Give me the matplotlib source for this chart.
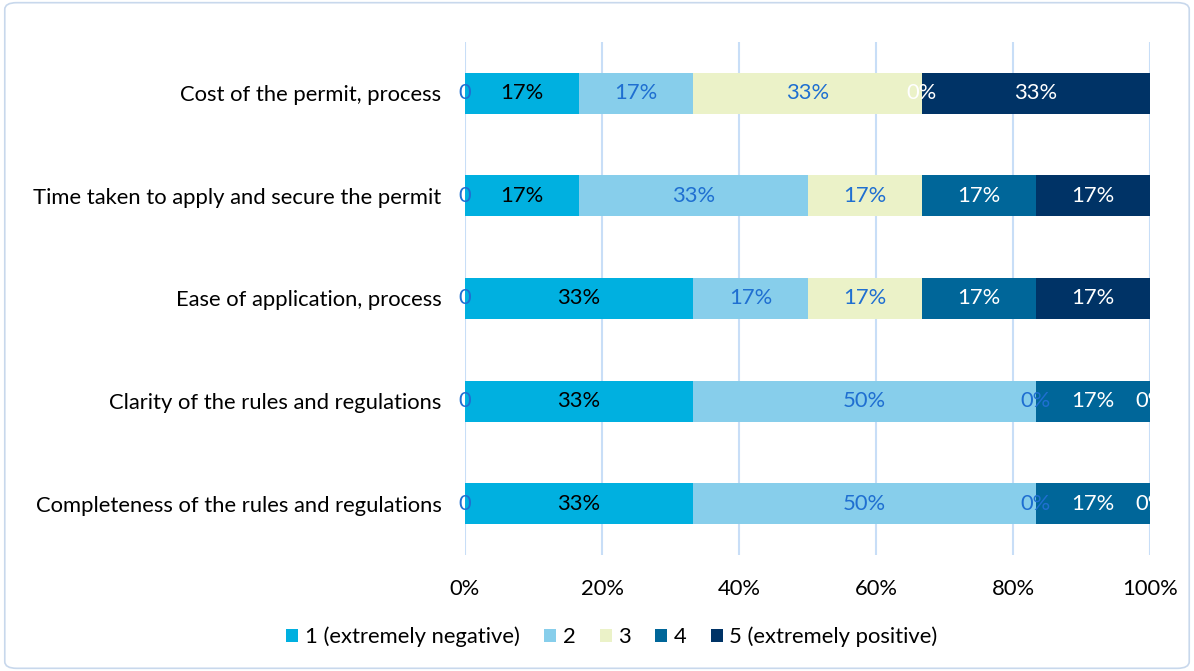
import numpy as np
import matplotlib.pyplot as plt
from matplotlib.patches import FancyBboxPatch

plt.rcParams['font.family'] = ['Lato', 'DejaVu Sans']

categories = ["Cost of the permit, process",
              "Time taken to apply and secure the permit",
              "Ease of application, process",
              "Clarity of the rules and regulations",
              "Completeness of the rules and regulations"]
series_names = ["1 (extremely negative)", "2", "3", "4", "5 (extremely positive)"]
s1 = [16.67, 16.67, 33.33, 33.33, 33.33]
s2 = [16.67, 33.33, 16.67, 50.0, 50.0]
s3 = [33.33, 16.67, 16.67, 0.0, 0.0]
s4 = [0.0, 16.67, 16.67, 16.67, 16.67]
s5 = [33.33, 16.67, 16.67, 0.0, 0.0]
xticks = [0, 20, 40, 60, 80, 100]

colors = ["#00B0E0", "#87CEEB", "#EBF2C8", "#006699", "#003366"]
label_colors = ["black", "#1F6FD1", "#1F6FD1", "white", "white"]
fs = 15.8

fig = plt.figure(figsize=(11.94, 6.71), dpi=100)
ax = fig.add_axes([465/1194, 1-555/671, 685/1194, 513/671])

y = np.arange(len(categories))
left = np.zeros(len(categories))
handles = []
for vals, name, c, lc in zip([s1, s2, s3, s4, s5], series_names, colors, label_colors):
    vals = np.array(vals)
    h = ax.barh(y, vals, left=left, height=0.4, color=c, label=name, zorder=2)
    handles.append(h)
    for yi, (l, v) in enumerate(zip(left, vals)):
        t = ax.text(l + v/2, yi, "%d%%" % round(v), ha='center', va='center',
                    color=lc, fontsize=fs, zorder=4)
        t.set_clip_on(True)
    left = left + vals

# stray "0" labels at the left edge
for yi in y:
    ax.text(0, yi, "0", ha='center', va='center', color="#1F6FD1", fontsize=fs, zorder=5,
            clip_on=False)

ax.set_xlim(0, 100)
ax.set_ylim(4.5, -0.5)
ax.set_yticks(y)
ax.set_yticklabels(categories, fontsize=fs)
ax.set_xticks(xticks)
ax.set_xticklabels(["%d%%" % v for v in xticks], fontsize=fs)
ax.tick_params(length=0)
ax.tick_params(axis='x', pad=17)
ax.tick_params(axis='y', pad=17)
for s in ax.spines.values():
    s.set_visible(False)
ax.xaxis.grid(True, color="#C8DEF7", linewidth=1.5, zorder=0)
ax.set_axisbelow(True)

fig.legend(handles=handles, loc='center', bbox_to_anchor=(612/1194, 1-637/671), ncol=5,
           frameon=False, fontsize=fs, handlelength=0.55, handleheight=0.55,
           handletextpad=0.3, columnspacing=1.1)

frame = FancyBboxPatch((0.004, 0.004), 0.992, 0.992, boxstyle="round,pad=0,rounding_size=0.01",
                       transform=fig.transFigure, fill=False, edgecolor="#C8D8EC", linewidth=1.2)
fig.patches.append(frame)

fig.savefig("out.png", dpi=100)
